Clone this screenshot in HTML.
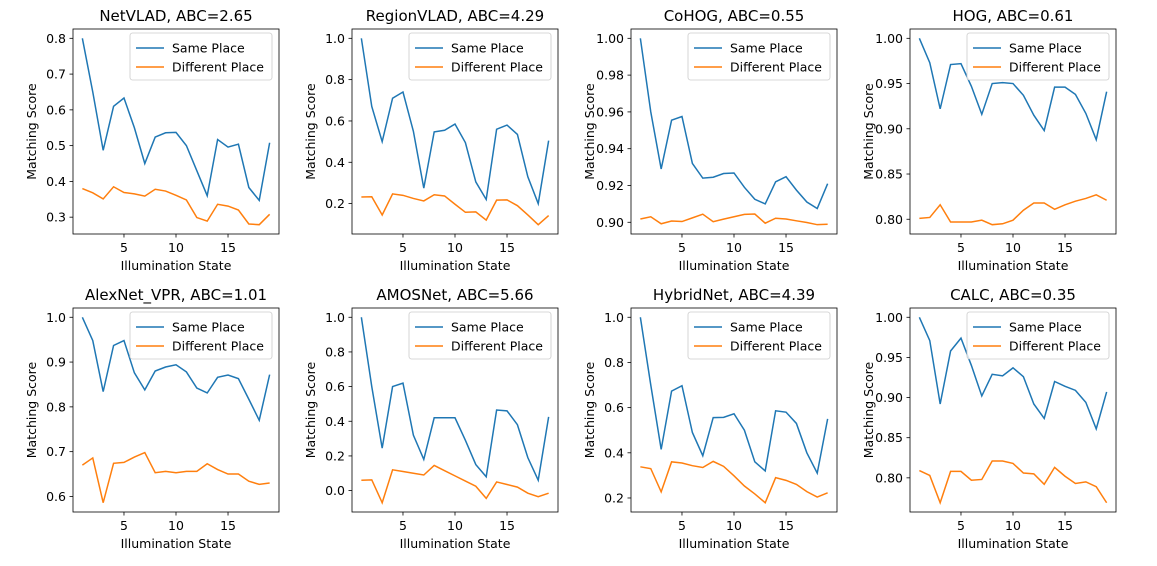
<!DOCTYPE html>
<html><head><meta charset="utf-8"><style>
body{margin:0;background:#fff}
svg{display:block;font-family:"DejaVu Sans","Liberation Sans",sans-serif}
</style></head><body>
<svg id="fig" width="1157" height="566"></svg>
<script>
const xs = [1,2,3,4,5,6,7,8,9,10,11,12,13,14,15,16,17,18,19];
const titles = ["NetVLAD, ABC=2.65","RegionVLAD, ABC=4.29","CoHOG, ABC=0.55","HOG, ABC=0.61","AlexNet_VPR, ABC=1.01","AMOSNet, ABC=5.66","HybridNet, ABC=4.39","CALC, ABC=0.35"];
const sameNetVLAD = [0.80,0.65,0.487,0.61,0.633,0.55,0.45,0.524,0.536,0.537,0.50,0.43,0.36,0.517,0.496,0.504,0.383,0.347,0.508];
const diffNetVLAD = [0.380,0.368,0.351,0.385,0.369,0.365,0.359,0.378,0.373,0.361,0.348,0.299,0.289,0.336,0.331,0.320,0.281,0.279,0.308];
const sameRegionVLAD = [1.0,0.67,0.50,0.71,0.74,0.55,0.275,0.547,0.555,0.585,0.495,0.305,0.22,0.56,0.58,0.535,0.33,0.20,0.505];
const diffRegionVLAD = [0.232,0.233,0.145,0.247,0.240,0.225,0.213,0.243,0.237,0.197,0.158,0.160,0.120,0.217,0.218,0.190,0.145,0.098,0.142];
const sameCoHOG = [1.0,0.96,0.929,0.9555,0.9575,0.932,0.924,0.9245,0.9265,0.9268,0.919,0.9125,0.910,0.922,0.9248,0.9175,0.911,0.9075,0.921];
const diffCoHOG = [0.9018,0.9030,0.8992,0.9007,0.9004,0.9024,0.9044,0.9003,0.9017,0.9030,0.9043,0.9045,0.8995,0.9022,0.9018,0.9008,0.8999,0.8987,0.8989];
const sameHOG = [1.0,0.973,0.922,0.971,0.972,0.947,0.916,0.950,0.951,0.950,0.937,0.915,0.898,0.946,0.946,0.938,0.917,0.888,0.941];
const diffHOG = [0.801,0.802,0.816,0.797,0.797,0.797,0.799,0.794,0.795,0.799,0.810,0.818,0.818,0.811,0.816,0.820,0.823,0.827,0.821];
const sameAlexNet = [1.0,0.948,0.834,0.937,0.948,0.876,0.838,0.880,0.889,0.894,0.878,0.842,0.831,0.866,0.871,0.863,0.817,0.770,0.872];
const diffAlexNet = [0.670,0.686,0.586,0.674,0.676,0.688,0.698,0.653,0.656,0.653,0.656,0.656,0.673,0.660,0.650,0.650,0.634,0.627,0.630];
const sameAMOSNet = [1.0,0.60,0.245,0.60,0.62,0.32,0.18,0.42,0.42,0.42,0.29,0.15,0.08,0.465,0.46,0.38,0.19,0.06,0.425];
const diffAMOSNet = [0.06,0.062,-0.07,0.12,0.11,0.10,0.09,0.145,0.115,0.085,0.055,0.025,-0.045,0.05,0.035,0.02,-0.015,-0.035,-0.015];
const sameHybridNet = [1.0,0.70,0.415,0.673,0.697,0.49,0.387,0.556,0.557,0.573,0.50,0.36,0.32,0.586,0.580,0.530,0.40,0.31,0.55];
const diffHybridNet = [0.338,0.330,0.227,0.360,0.355,0.343,0.335,0.362,0.340,0.298,0.253,0.218,0.179,0.290,0.278,0.260,0.228,0.204,0.223];
const sameCALC = [1.0,0.971,0.892,0.958,0.974,0.94,0.902,0.929,0.927,0.937,0.926,0.892,0.874,0.920,0.914,0.909,0.894,0.861,0.907];
const diffCALC = [0.809,0.803,0.769,0.808,0.808,0.797,0.798,0.821,0.821,0.818,0.806,0.805,0.792,0.813,0.802,0.793,0.795,0.789,0.769];
const yTicks = [[0.3,0.4,0.5,0.6,0.7,0.8],[0.2,0.4,0.6,0.8,1.0],[0.90,0.92,0.94,0.96,0.98,1.00],[0.80,0.85,0.90,0.95,1.00],[0.6,0.7,0.8,0.9,1.0],[0.0,0.2,0.4,0.6,0.8,1.0],[0.2,0.4,0.6,0.8,1.0],[0.80,0.85,0.90,0.95,1.00]];
const yDecimals = [1,1,2,2,1,1,1,2];
const xTicks = [5,10,15];
const sameSeries = [sameNetVLAD,sameRegionVLAD,sameCoHOG,sameHOG,sameAlexNet,sameAMOSNet,sameHybridNet,sameCALC];
const diffSeries = [diffNetVLAD,diffRegionVLAD,diffCoHOG,diffHOG,diffAlexNet,diffAMOSNet,diffHybridNet,diffCALC];

const NS="http://www.w3.org/2000/svg";
const fig=document.getElementById('fig');
function mk(tag,attrs,parent,text){const e=document.createElementNS(NS,tag);for(const k in attrs)e.setAttribute(k,attrs[k]);if(text!==undefined)e.textContent=text;parent.appendChild(e);return e;}
const lefts=[73,352,631,910], W=206;
const tops=[29,308], H=[205,204];
for(let i=0;i<8;i++){
  const L=lefts[i%4], T=tops[Math.floor(i/4)], h=H[Math.floor(i/4)];
  const g=mk('g',{},fig);
  
  
  const all=sameSeries[i].concat(diffSeries[i]);
  let mn=Math.min(...all), mx=Math.max(...all), r=mx-mn; mn-=0.05*r; mx+=0.05*r;
  const xmin=0.1,xmax=19.9;
  const sx=v=>L+(v-xmin)/(xmax-xmin)*W;
  const sy=v=>T+h-(v-mn)/(mx-mn)*h;
  // ticks
  yTicks[i].forEach(t=>{
    const y=sy(t);
    const tl=mk('line',{x1:L-3.5,x2:L,y1:y,y2:y,stroke:'#000','stroke-width':0.8},g);
    
    
    const tx=mk('text',{x:L-7,y:y+4.5,'text-anchor':'end','font-size':12.5,fill:'#000'},g,t.toFixed(yDecimals[i]));
    
    
  });
  xTicks.forEach(t=>{
    const x=sx(t);
    const tl=mk('line',{x1:x,x2:x,y1:T+h,y2:T+h+3.5,stroke:'#000','stroke-width':0.8},g);
    
    
    const tx=mk('text',{x:x,y:T+h+18,'text-anchor':'middle','font-size':12.5,fill:'#000'},g,String(t));
    
    
  });
  const pts=a=>a.map((v,k)=>sx(xs[k]).toFixed(2)+','+sy(v).toFixed(2)).join(' ');
  const p1=mk('polyline',{points:pts(sameSeries[i]),fill:'none',stroke:'#1f77b4','stroke-width':1.5},g);
  
  
  const p2=mk('polyline',{points:pts(diffSeries[i]),fill:'none',stroke:'#ff7f0e','stroke-width':1.5},g);
  
  
  const box=mk('rect',{x:L,y:T,width:W,height:h,fill:'none',stroke:'#000','stroke-width':0.8},g);
  
  
  const ti=mk('text',{x:L+W/2,y:T-8,'text-anchor':'middle','font-size':15,fill:'#000'},g,titles[i]);
  
  
  const yl=mk('text',{x:0,y:0,'text-anchor':'middle','font-size':12.5,fill:'#000',transform:`translate(${L-37},${T+h/2}) rotate(-90)`},g,'Matching Score');
  
  
  const xl=mk('text',{x:L+W/2,y:T+h+36,'text-anchor':'middle','font-size':12.5,fill:'#000'},g,'Illumination State');
  
  
  // legend
  const lg=mk('g',{},g);
  
  
  const bx=L+W-149, by=T+4;
  mk('rect',{x:bx,y:by,width:142,height:47,rx:2.5,fill:'#fff','fill-opacity':0.8,stroke:'#ccc','stroke-width':0.8},lg);
  [['Same Place','#1f77b4'],['Different Place','#ff7f0e']].forEach((e,k)=>{
    const yy=by+15+k*19;
    const ent=mk('g',{},lg);
    
    
    mk('line',{x1:bx+6,x2:bx+34,y1:yy,y2:yy,stroke:e[1],'stroke-width':1.5},ent);
    mk('text',{x:bx+42,y:yy+4.5,'font-size':12.5,fill:'#000'},ent,e[0]);
  });
}
</script>
</body></html>
